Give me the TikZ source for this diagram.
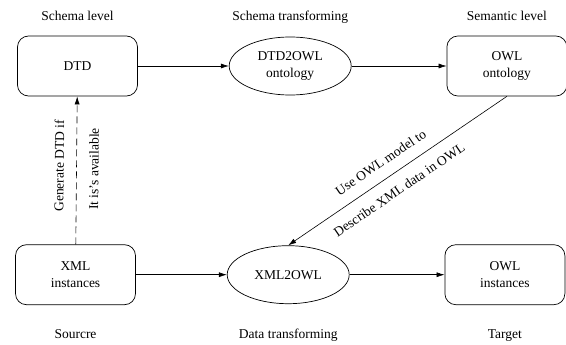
\documentclass[tikz,border=0pt]{standalone}
\usepackage{fontspec}
\setmainfont{Liberation Serif}
\usetikzlibrary{arrows.meta,positioning,shapes.geometric}

\begin{document}
\begin{tikzpicture}[font=\fontsize{13.5}{17}\selectfont,node distance=91pt,
    box/.style={draw,rounded corners=11pt,align=center,minimum width=120pt,minimum height=60pt,line width=0.7pt},
    proc/.style={draw,ellipse,align=center,minimum width=122pt,minimum height=58pt,inner sep=0pt,line width=0.7pt},
    title/.style={text height=9pt,text depth=2.5pt},
    link/.style={-{Latex[length=8pt,width=5pt]},line width=0.6pt},
    backlink/.style={{Latex[length=8pt,width=5pt]}-,line width=0.6pt}]
  \useasboundingbox (0,0) rectangle (566pt,-345pt);
  % top row: schema
  \node[box] (dtd) at (77.5pt,-66pt) {DTD};
  \node[proc,right=91pt of dtd] (d2o) {DTD2OWL\\ontology};
  \node[box,right=95pt of d2o] (owlont) {OWL\\ontology};
  % bottom row: data
  \node[box,below=148pt of dtd,xshift=-2pt] (xml) {XML\\instances};
  \node[proc,right=91pt of xml] (x2o) {XML2OWL};
  \node[box,right=95pt of x2o] (owlinst) {OWL\\instances};
  % column titles
  \node[title,above=9pt of dtd] (schemalvl) {Schema level};
  \node[title,above=9pt of dtd.north -| d2o] (schematrf) {Schema transforming};
  \node[title,above=9pt of owlont] (semlvl) {Semantic level};
  \node[title,below=21pt of xml] (src) {Sourcre};
  \node[title,below=21pt of xml.south -| x2o] (datatrf) {Data transforming};
  \node[title,below=21pt of owlinst] (tgt) {Target};
  % connectors
  \draw[link] (dtd) -- (d2o);
  \draw[link] (d2o) -- (owlont);
  \draw[link] (xml) -- (x2o);
  \draw[link] (x2o) -- (owlinst);
  \draw[link,dash pattern=on 7pt off 4pt] (xml) -- (dtd)
    node[pos=0.53,sloped,above=9pt] (genlbl) {Generate DTD if}
    node[pos=0.51,sloped,below=9pt] (availlbl) {It is's available};
  \draw[backlink] (x2o.north) -- (owlont.south)
    node[pos=0.465,sloped,above=8pt] (uselbl) {Use OWL model to}
    node[pos=0.465,sloped,below=8pt] (desclbl) {Describe XML data in OWL};
\end{tikzpicture}
\end{document}
